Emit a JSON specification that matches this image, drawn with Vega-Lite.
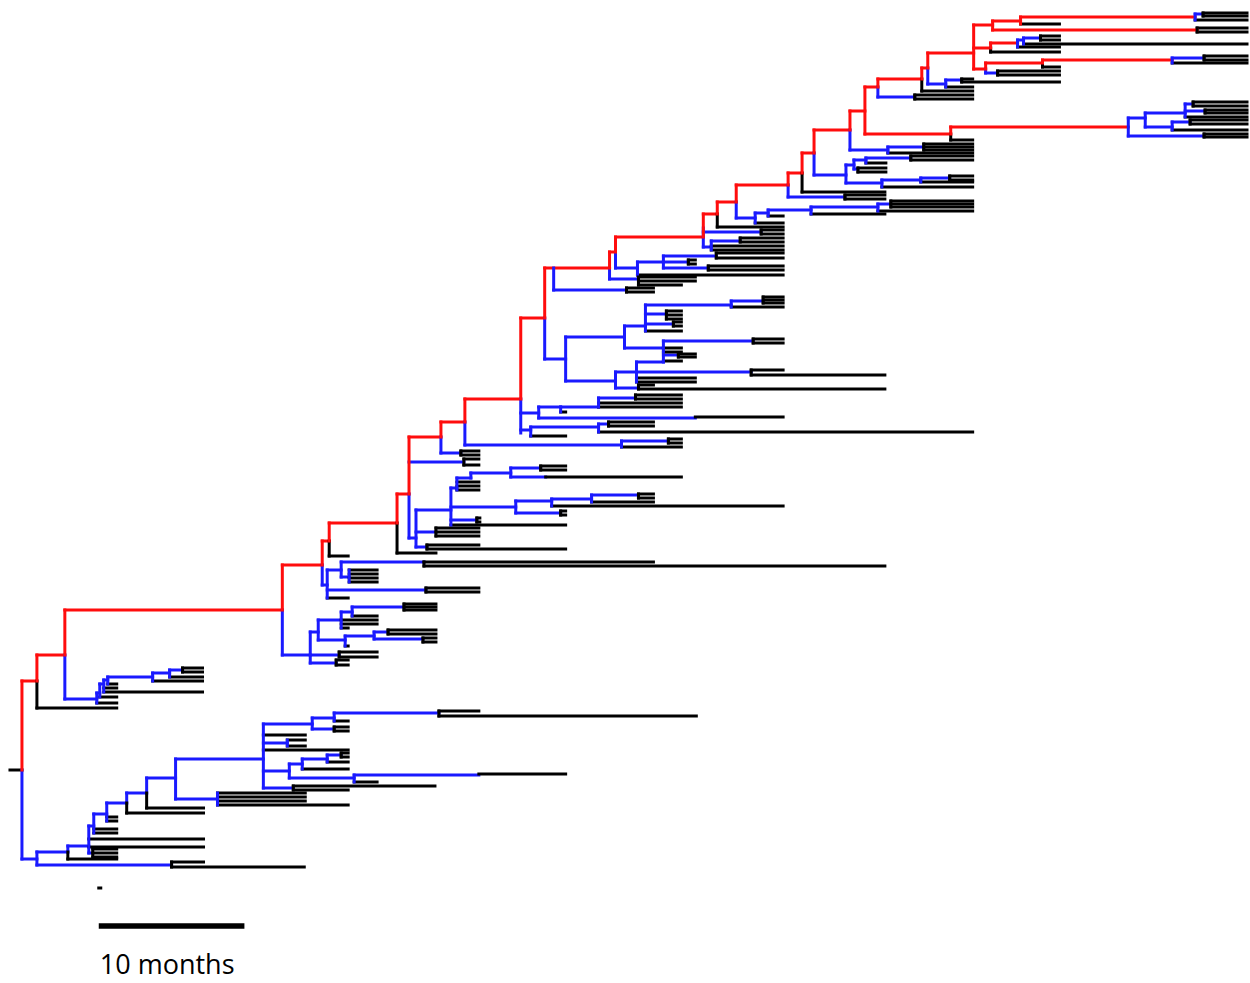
{
"$schema":"https://vega.github.io/schema/vega-lite/v6.json",
"width":1250,"height":983,"padding":0,
"autosize":{"type":"fit","contains":"padding"},
"config":{"view":{"stroke":null}},
"datasets":{
"h":[
{"x":10,"x2":22,"y":770,"c":"k"},{"x":22,"x2":37,"y":681,"c":"r"},{"x":37,"x2":117,"y":708,"c":"k"},{"x":37,"x2":65,"y":655,"c":"r"},{"x":65,"x2":283,"y":610,"c":"r"},
{"x":65,"x2":97,"y":699,"c":"b"},{"x":97,"x2":117,"y":703,"c":"k"},{"x":97,"x2":100,"y":693,"c":"b"},{"x":100,"x2":117,"y":697,"c":"k"},{"x":100,"x2":104,"y":684,"c":"b"},{"x":104,"x2":203,"y":692,"c":"k"},{"x":104,"x2":117,"y":688,"c":"k"},{"x":104,"x2":108,"y":680,"c":"b"},{"x":108,"x2":153,"y":677,"c":"b"},{"x":108,"x2":117,"y":684,"c":"k"},{"x":153,"x2":203,"y":681,"c":"k"},{"x":153,"x2":170,"y":673,"c":"b"},{"x":170,"x2":203,"y":677,"c":"k"},{"x":170,"x2":183,"y":670,"c":"b"},{"x":183,"x2":203,"y":668,"c":"k"},{"x":183,"x2":203,"y":672,"c":"k"},
{"x":22,"x2":37,"y":859,"c":"b"},{"x":37,"x2":172,"y":865,"c":"b"},{"x":172,"x2":204,"y":862,"c":"k"},{"x":172,"x2":305,"y":867,"c":"k"},{"x":37,"x2":68,"y":852,"c":"b"},{"x":68,"x2":117,"y":859,"c":"k"},{"x":68,"x2":89,"y":846,"c":"b"},{"x":89,"x2":93,"y":853,"c":"b"},{"x":93,"x2":117,"y":849,"c":"k"},{"x":93,"x2":117,"y":853,"c":"k"},{"x":93,"x2":117,"y":857,"c":"k"},{"x":89,"x2":204,"y":839,"c":"k"},{"x":89,"x2":204,"y":847,"c":"k"},{"x":89,"x2":94,"y":826,"c":"b"},{"x":94,"x2":117,"y":829,"c":"k"},{"x":94,"x2":117,"y":833,"c":"k"},{"x":94,"x2":107,"y":814,"c":"b"},{"x":107,"x2":117,"y":817,"c":"k"},{"x":107,"x2":117,"y":821,"c":"k"},{"x":107,"x2":127,"y":803,"c":"b"},{"x":127,"x2":204,"y":813,"c":"k"},{"x":127,"x2":147,"y":793,"c":"b"},{"x":147,"x2":204,"y":808,"c":"k"},{"x":147,"x2":176,"y":778,"c":"b"},{"x":176,"x2":218,"y":799,"c":"b"},{"x":218,"x2":306,"y":793,"c":"k"},{"x":218,"x2":306,"y":797,"c":"k"},{"x":218,"x2":306,"y":801,"c":"k"},{"x":218,"x2":349,"y":805,"c":"k"},
{"x":176,"x2":264,"y":759,"c":"b"},{"x":264,"x2":313,"y":724,"c":"b"},{"x":313,"x2":335,"y":718,"c":"b"},{"x":335,"x2":440,"y":713,"c":"b"},{"x":440,"x2":480,"y":711,"c":"k"},{"x":440,"x2":698,"y":716,"c":"k"},{"x":335,"x2":349,"y":721,"c":"k"},{"x":313,"x2":335,"y":729,"c":"b"},{"x":335,"x2":349,"y":727,"c":"k"},{"x":335,"x2":349,"y":731,"c":"k"},{"x":264,"x2":306,"y":735,"c":"k"},{"x":264,"x2":288,"y":743,"c":"b"},{"x":288,"x2":306,"y":740,"c":"k"},{"x":288,"x2":306,"y":746,"c":"k"},{"x":264,"x2":349,"y":750,"c":"k"},{"x":264,"x2":290,"y":771,"c":"b"},{"x":290,"x2":303,"y":764,"c":"b"},{"x":303,"x2":328,"y":759,"c":"b"},{"x":328,"x2":342,"y":755,"c":"b"},{"x":342,"x2":349,"y":753,"c":"k"},{"x":342,"x2":349,"y":757,"c":"k"},{"x":328,"x2":349,"y":762,"c":"k"},{"x":303,"x2":349,"y":769,"c":"k"},{"x":290,"x2":355,"y":778,"c":"b"},{"x":355,"x2":480,"y":775,"c":"b"},{"x":480,"x2":567,"y":774,"c":"k"},{"x":355,"x2":378,"y":782,"c":"k"},{"x":264,"x2":294,"y":788,"c":"b"},{"x":294,"x2":436,"y":786,"c":"k"},{"x":294,"x2":349,"y":790,"c":"k"},{"x":99,"x2":101,"y":888,"c":"k"},
{"x":283,"x2":311,"y":655,"c":"b"},{"x":311,"x2":337,"y":663,"c":"b"},{"x":337,"x2":349,"y":660,"c":"k"},{"x":337,"x2":349,"y":665,"c":"k"},{"x":311,"x2":340,"y":655,"c":"b"},{"x":340,"x2":378,"y":652,"c":"k"},{"x":340,"x2":378,"y":657,"c":"k"},{"x":311,"x2":319,"y":632,"c":"b"},{"x":319,"x2":342,"y":620,"c":"b"},{"x":342,"x2":353,"y":612,"c":"b"},{"x":353,"x2":405,"y":607,"c":"b"},{"x":405,"x2":437,"y":604,"c":"k"},{"x":405,"x2":437,"y":607,"c":"k"},{"x":405,"x2":437,"y":610,"c":"k"},{"x":353,"x2":378,"y":616,"c":"k"},{"x":342,"x2":378,"y":620,"c":"k"},{"x":342,"x2":378,"y":624,"c":"k"},{"x":342,"x2":349,"y":628,"c":"k"},{"x":319,"x2":346,"y":640,"c":"b"},{"x":346,"x2":375,"y":636,"c":"b"},{"x":375,"x2":389,"y":632,"c":"b"},{"x":389,"x2":437,"y":630,"c":"k"},{"x":389,"x2":437,"y":634,"c":"k"},{"x":375,"x2":424,"y":639,"c":"b"},{"x":424,"x2":437,"y":638,"c":"k"},{"x":424,"x2":437,"y":642,"c":"k"},{"x":346,"x2":349,"y":646,"c":"k"},
{"x":283,"x2":323,"y":565,"c":"r"},{"x":323,"x2":330,"y":541,"c":"r"},{"x":330,"x2":349,"y":556,"c":"k"},{"x":323,"x2":328,"y":585,"c":"b"},{"x":328,"x2":349,"y":598,"c":"k"},{"x":328,"x2":427,"y":590,"c":"b"},{"x":427,"x2":480,"y":588,"c":"k"},{"x":427,"x2":480,"y":592,"c":"k"},{"x":328,"x2":342,"y":570,"c":"b"},{"x":342,"x2":425,"y":562,"c":"b"},{"x":425,"x2":655,"y":562,"c":"k"},{"x":425,"x2":887,"y":566,"c":"k"},{"x":342,"x2":350,"y":577,"c":"b"},{"x":350,"x2":378,"y":570,"c":"k"},{"x":350,"x2":378,"y":574,"c":"k"},{"x":350,"x2":378,"y":578,"c":"k"},{"x":350,"x2":378,"y":582,"c":"k"},
{"x":330,"x2":398,"y":523,"c":"r"},{"x":398,"x2":437,"y":553,"c":"k"},{"x":398,"x2":410,"y":494,"c":"r"},{"x":410,"x2":465,"y":462,"c":"b"},{"x":465,"x2":480,"y":459,"c":"k"},{"x":465,"x2":480,"y":465,"c":"k"},{"x":410,"x2":417,"y":538,"c":"b"},{"x":417,"x2":428,"y":547,"c":"b"},{"x":428,"x2":480,"y":545,"c":"k"},{"x":428,"x2":567,"y":549,"c":"k"},{"x":417,"x2":437,"y":532,"c":"b"},{"x":437,"x2":480,"y":528,"c":"k"},{"x":437,"x2":480,"y":532,"c":"k"},{"x":437,"x2":480,"y":536,"c":"k"},{"x":417,"x2":452,"y":510,"c":"b"},{"x":452,"x2":567,"y":525,"c":"k"},{"x":452,"x2":478,"y":520,"c":"b"},{"x":478,"x2":481,"y":518,"c":"k"},{"x":478,"x2":481,"y":522,"c":"k"},{"x":452,"x2":517,"y":507,"c":"b"},{"x":517,"x2":553,"y":501,"c":"b"},{"x":553,"x2":593,"y":499,"c":"b"},{"x":593,"x2":640,"y":495,"c":"b"},{"x":640,"x2":655,"y":494,"c":"k"},{"x":640,"x2":655,"y":498,"c":"k"},{"x":593,"x2":655,"y":502,"c":"k"},{"x":553,"x2":785,"y":506,"c":"k"},{"x":517,"x2":562,"y":513,"c":"b"},{"x":562,"x2":567,"y":511,"c":"k"},{"x":562,"x2":567,"y":515,"c":"k"},{"x":452,"x2":458,"y":488,"c":"b"},{"x":458,"x2":480,"y":482,"c":"k"},{"x":458,"x2":480,"y":486,"c":"k"},{"x":458,"x2":480,"y":490,"c":"k"},{"x":458,"x2":472,"y":478,"c":"b"},{"x":472,"x2":512,"y":473,"c":"b"},{"x":512,"x2":542,"y":468,"c":"b"},{"x":542,"x2":567,"y":466,"c":"k"},{"x":542,"x2":567,"y":470,"c":"k"},{"x":512,"x2":547,"y":477,"c":"b"},{"x":547,"x2":683,"y":477,"c":"k"},
{"x":410,"x2":442,"y":437,"c":"r"},{"x":442,"x2":462,"y":453,"c":"b"},{"x":462,"x2":480,"y":451,"c":"k"},{"x":462,"x2":480,"y":455,"c":"k"},{"x":442,"x2":466,"y":422,"c":"r"},{"x":466,"x2":623,"y":445,"c":"b"},{"x":623,"x2":670,"y":441,"c":"b"},{"x":670,"x2":683,"y":439,"c":"k"},{"x":670,"x2":683,"y":443,"c":"k"},{"x":623,"x2":683,"y":447,"c":"k"},
{"x":466,"x2":522,"y":399,"c":"r"},{"x":522,"x2":540,"y":413,"c":"b"},{"x":540,"x2":562,"y":407,"c":"b"},{"x":562,"x2":567,"y":412,"c":"k"},{"x":562,"x2":600,"y":407,"c":"b"},{"x":600,"x2":637,"y":398,"c":"b"},{"x":637,"x2":683,"y":395,"c":"k"},{"x":637,"x2":683,"y":399,"c":"k"},{"x":600,"x2":683,"y":403,"c":"k"},{"x":600,"x2":683,"y":407,"c":"k"},{"x":540,"x2":697,"y":418,"c":"b"},{"x":697,"x2":785,"y":417,"c":"k"},{"x":522,"x2":532,"y":430,"c":"b"},{"x":532,"x2":600,"y":427,"c":"b"},{"x":600,"x2":610,"y":424,"c":"b"},{"x":610,"x2":655,"y":422,"c":"k"},{"x":610,"x2":655,"y":426,"c":"k"},{"x":600,"x2":975,"y":432,"c":"k"},{"x":532,"x2":567,"y":436,"c":"k"},
{"x":522,"x2":546,"y":318,"c":"r"},{"x":546,"x2":567,"y":359,"c":"b"},{"x":567,"x2":626,"y":337,"c":"b"},{"x":626,"x2":647,"y":326,"c":"b"},{"x":647,"x2":733,"y":305,"c":"b"},{"x":733,"x2":765,"y":301,"c":"b"},{"x":765,"x2":785,"y":297,"c":"k"},{"x":765,"x2":785,"y":300,"c":"k"},{"x":765,"x2":785,"y":303,"c":"k"},{"x":733,"x2":785,"y":307,"c":"k"},{"x":647,"x2":668,"y":314,"c":"b"},{"x":668,"x2":683,"y":311,"c":"k"},{"x":668,"x2":683,"y":315,"c":"k"},{"x":668,"x2":683,"y":319,"c":"k"},{"x":647,"x2":675,"y":324,"c":"b"},{"x":675,"x2":683,"y":322,"c":"k"},{"x":675,"x2":683,"y":326,"c":"k"},{"x":647,"x2":683,"y":331,"c":"k"},{"x":626,"x2":665,"y":348,"c":"b"},{"x":665,"x2":755,"y":341,"c":"b"},{"x":755,"x2":785,"y":339,"c":"k"},{"x":755,"x2":785,"y":343,"c":"k"},{"x":665,"x2":683,"y":348,"c":"k"},{"x":665,"x2":683,"y":352,"c":"k"},{"x":567,"x2":617,"y":381,"c":"b"},{"x":617,"x2":638,"y":372,"c":"b"},{"x":638,"x2":665,"y":362,"c":"b"},{"x":665,"x2":680,"y":355,"c":"b"},{"x":680,"x2":697,"y":354,"c":"k"},{"x":680,"x2":697,"y":357,"c":"k"},{"x":665,"x2":683,"y":361,"c":"k"},{"x":638,"x2":753,"y":372,"c":"b"},{"x":753,"x2":785,"y":370,"c":"k"},{"x":753,"x2":887,"y":375,"c":"k"},{"x":638,"x2":697,"y":378,"c":"k"},{"x":638,"x2":697,"y":382,"c":"k"},{"x":617,"x2":640,"y":388,"c":"b"},{"x":640,"x2":655,"y":385,"c":"k"},{"x":640,"x2":887,"y":389,"c":"k"},
{"x":546,"x2":611,"y":268,"c":"r"},{"x":555,"x2":628,"y":290,"c":"b"},{"x":628,"x2":655,"y":288,"c":"k"},{"x":628,"x2":655,"y":292,"c":"k"},{"x":611,"x2":640,"y":279,"c":"b"},{"x":640,"x2":697,"y":277,"c":"k"},{"x":640,"x2":697,"y":281,"c":"k"},{"x":640,"x2":683,"y":285,"c":"k"},{"x":611,"x2":617,"y":252,"c":"r"},{"x":617,"x2":639,"y":268,"c":"b"},{"x":639,"x2":785,"y":275,"c":"k"},{"x":639,"x2":665,"y":262,"c":"b"},{"x":665,"x2":718,"y":256,"c":"b"},{"x":718,"x2":785,"y":253,"c":"k"},{"x":718,"x2":785,"y":258,"c":"k"},{"x":665,"x2":690,"y":262,"c":"b"},{"x":690,"x2":697,"y":260,"c":"k"},{"x":690,"x2":697,"y":264,"c":"k"},{"x":665,"x2":710,"y":268,"c":"b"},{"x":710,"x2":785,"y":266,"c":"k"},{"x":710,"x2":785,"y":270,"c":"k"},{"x":617,"x2":705,"y":237,"c":"r"},{"x":705,"x2":763,"y":232,"c":"b"},{"x":763,"x2":785,"y":230,"c":"k"},{"x":763,"x2":785,"y":234,"c":"k"},{"x":705,"x2":713,"y":247,"c":"b"},{"x":713,"x2":742,"y":241,"c":"b"},{"x":742,"x2":785,"y":238,"c":"k"},{"x":742,"x2":785,"y":242,"c":"k"},{"x":713,"x2":785,"y":246,"c":"k"},{"x":713,"x2":785,"y":250,"c":"k"},{"x":705,"x2":719,"y":214,"c":"r"},{"x":719,"x2":785,"y":227,"c":"k"},{"x":719,"x2":738,"y":202,"c":"r"},{"x":738,"x2":757,"y":218,"c":"b"},{"x":757,"x2":785,"y":223,"c":"k"},{"x":757,"x2":770,"y":213,"c":"b"},{"x":770,"x2":785,"y":216,"c":"k"},{"x":770,"x2":813,"y":210,"c":"b"},{"x":813,"x2":887,"y":214,"c":"k"},{"x":813,"x2":880,"y":207,"c":"b"},{"x":880,"x2":893,"y":204,"c":"b"},{"x":893,"x2":975,"y":201,"c":"k"},{"x":893,"x2":975,"y":204,"c":"k"},{"x":893,"x2":975,"y":207,"c":"k"},{"x":880,"x2":975,"y":211,"c":"k"},{"x":738,"x2":790,"y":185,"c":"r"},
{"x":790,"x2":847,"y":197,"c":"b"},{"x":847,"x2":887,"y":195,"c":"k"},{"x":847,"x2":887,"y":199,"c":"k"},{"x":790,"x2":804,"y":173,"c":"r"},{"x":804,"x2":887,"y":192,"c":"k"},{"x":804,"x2":816,"y":153,"c":"r"},{"x":816,"x2":848,"y":175,"c":"b"},{"x":848,"x2":856,"y":165,"c":"b"},{"x":856,"x2":868,"y":160,"c":"b"},{"x":868,"x2":913,"y":158,"c":"b"},{"x":913,"x2":975,"y":156,"c":"k"},{"x":913,"x2":975,"y":160,"c":"k"},{"x":868,"x2":888,"y":163,"c":"k"},{"x":856,"x2":860,"y":169,"c":"b"},{"x":860,"x2":888,"y":168,"c":"k"},{"x":860,"x2":888,"y":172,"c":"k"},{"x":848,"x2":884,"y":183,"c":"b"},{"x":884,"x2":923,"y":180,"c":"b"},{"x":923,"x2":952,"y":178,"c":"b"},{"x":952,"x2":975,"y":176,"c":"k"},{"x":952,"x2":975,"y":180,"c":"k"},{"x":923,"x2":975,"y":182,"c":"k"},{"x":884,"x2":975,"y":187,"c":"k"},{"x":816,"x2":852,"y":130,"c":"r"},{"x":852,"x2":890,"y":150,"c":"b"},{"x":890,"x2":926,"y":147,"c":"b"},{"x":926,"x2":975,"y":144,"c":"k"},{"x":926,"x2":975,"y":147,"c":"k"},{"x":926,"x2":975,"y":150,"c":"k"},{"x":890,"x2":975,"y":153,"c":"k"},{"x":852,"x2":867,"y":111,"c":"r"},{"x":867,"x2":953,"y":134,"c":"r"},{"x":953,"x2":975,"y":140,"c":"k"},{"x":953,"x2":1131,"y":127,"c":"r"},{"x":1131,"x2":1148,"y":118,"c":"b"},{"x":1148,"x2":1188,"y":113,"c":"b"},{"x":1188,"x2":1196,"y":104,"c":"b"},{"x":1196,"x2":1250,"y":102,"c":"k"},{"x":1196,"x2":1250,"y":106,"c":"k"},{"x":1188,"x2":1208,"y":111,"c":"b"},{"x":1208,"x2":1250,"y":110,"c":"k"},{"x":1208,"x2":1250,"y":113,"c":"k"},{"x":1188,"x2":1250,"y":117,"c":"k"},{"x":1148,"x2":1175,"y":127,"c":"b"},{"x":1175,"x2":1193,"y":122,"c":"b"},{"x":1193,"x2":1250,"y":120,"c":"k"},{"x":1193,"x2":1250,"y":124,"c":"k"},{"x":1175,"x2":1250,"y":130,"c":"k"},{"x":1131,"x2":1207,"y":136,"c":"b"},{"x":1207,"x2":1250,"y":134,"c":"k"},{"x":1207,"x2":1250,"y":137,"c":"k"},
{"x":867,"x2":880,"y":87,"c":"r"},{"x":880,"x2":917,"y":97,"c":"b"},{"x":917,"x2":975,"y":95,"c":"k"},{"x":917,"x2":975,"y":99,"c":"k"},{"x":880,"x2":924,"y":79,"c":"r"},{"x":924,"x2":975,"y":91,"c":"k"},{"x":924,"x2":930,"y":68,"c":"r"},{"x":930,"x2":948,"y":84,"c":"b"},{"x":948,"x2":964,"y":80,"c":"b"},{"x":964,"x2":975,"y":79,"c":"k"},{"x":964,"x2":1062,"y":82,"c":"k"},{"x":948,"x2":975,"y":87,"c":"k"},{"x":930,"x2":976,"y":53,"c":"r"},{"x":976,"x2":995,"y":25,"c":"r"},{"x":995,"x2":1023,"y":21,"c":"r"},{"x":1023,"x2":1198,"y":17,"c":"r"},{"x":1198,"x2":1206,"y":14,"c":"b"},{"x":1206,"x2":1250,"y":13,"c":"k"},{"x":1206,"x2":1250,"y":16,"c":"k"},{"x":1198,"x2":1250,"y":20,"c":"k"},{"x":1023,"x2":1062,"y":24,"c":"k"},{"x":995,"x2":1200,"y":30,"c":"r"},{"x":1200,"x2":1250,"y":28,"c":"k"},{"x":1200,"x2":1250,"y":32,"c":"k"},{"x":976,"x2":993,"y":48,"c":"r"},{"x":993,"x2":1062,"y":52,"c":"k"},{"x":993,"x2":1020,"y":43,"c":"r"},{"x":1020,"x2":1026,"y":40,"c":"b"},{"x":1026,"x2":1043,"y":38,"c":"b"},{"x":1043,"x2":1062,"y":36,"c":"k"},{"x":1043,"x2":1062,"y":40,"c":"k"},{"x":1026,"x2":1250,"y":44,"c":"k"},{"x":1020,"x2":1062,"y":47,"c":"k"},{"x":976,"x2":988,"y":69,"c":"r"},{"x":988,"x2":1045,"y":63,"c":"r"},{"x":1045,"x2":1062,"y":67,"c":"k"},{"x":1045,"x2":1175,"y":60,"c":"r"},{"x":1175,"x2":1207,"y":58,"c":"b"},{"x":1207,"x2":1250,"y":56,"c":"k"},{"x":1207,"x2":1250,"y":60,"c":"k"},{"x":1175,"x2":1250,"y":63,"c":"k"},{"x":988,"x2":1000,"y":73,"c":"b"},{"x":1000,"x2":1062,"y":71,"c":"k"},{"x":1000,"x2":1062,"y":75,"c":"k"}
],
"v":[
{"x":22,"y":681,"y2":770,"c":"r"},{"x":22,"y":770,"y2":859,"c":"b"},{"x":37,"y":655,"y2":681,"c":"r"},{"x":37,"y":681,"y2":708,"c":"k"},{"x":65,"y":610,"y2":655,"c":"r"},{"x":65,"y":655,"y2":699,"c":"b"},
{"x":97,"y":693,"y2":703,"c":"b"},{"x":100,"y":684,"y2":697,"c":"b"},{"x":104,"y":680,"y2":692,"c":"b"},{"x":108,"y":677,"y2":684,"c":"b"},{"x":153,"y":673,"y2":681,"c":"b"},{"x":170,"y":670,"y2":677,"c":"b"},{"x":183,"y":668,"y2":672,"c":"k"},
{"x":37,"y":852,"y2":865,"c":"b"},{"x":172,"y":862,"y2":867,"c":"k"},{"x":68,"y":846,"y2":852,"c":"b"},{"x":68,"y":852,"y2":859,"c":"k"},{"x":89,"y":826,"y2":853,"c":"b"},{"x":93,"y":849,"y2":857,"c":"k"},{"x":94,"y":814,"y2":833,"c":"b"},{"x":107,"y":803,"y2":821,"c":"b"},{"x":127,"y":793,"y2":803,"c":"b"},{"x":127,"y":803,"y2":813,"c":"k"},{"x":147,"y":778,"y2":793,"c":"b"},{"x":147,"y":793,"y2":808,"c":"k"},{"x":176,"y":759,"y2":799,"c":"b"},{"x":218,"y":793,"y2":805,"c":"b"},{"x":264,"y":724,"y2":788,"c":"b"},{"x":313,"y":718,"y2":729,"c":"b"},{"x":335,"y":713,"y2":721,"c":"b"},{"x":440,"y":711,"y2":716,"c":"k"},{"x":335,"y":727,"y2":731,"c":"k"},{"x":288,"y":740,"y2":746,"c":"b"},{"x":290,"y":764,"y2":778,"c":"b"},{"x":303,"y":759,"y2":769,"c":"b"},{"x":328,"y":755,"y2":762,"c":"b"},{"x":342,"y":753,"y2":757,"c":"k"},{"x":355,"y":775,"y2":782,"c":"b"},{"x":294,"y":786,"y2":790,"c":"k"},
{"x":283,"y":565,"y2":610,"c":"r"},{"x":283,"y":610,"y2":655,"c":"b"},{"x":311,"y":632,"y2":663,"c":"b"},{"x":337,"y":660,"y2":665,"c":"k"},{"x":340,"y":652,"y2":657,"c":"k"},{"x":319,"y":620,"y2":640,"c":"b"},{"x":342,"y":612,"y2":628,"c":"b"},{"x":353,"y":607,"y2":616,"c":"b"},{"x":405,"y":604,"y2":610,"c":"k"},{"x":346,"y":636,"y2":646,"c":"b"},{"x":375,"y":632,"y2":639,"c":"b"},{"x":389,"y":630,"y2":634,"c":"k"},{"x":424,"y":638,"y2":642,"c":"k"},
{"x":323,"y":541,"y2":565,"c":"r"},{"x":323,"y":565,"y2":585,"c":"b"},{"x":330,"y":523,"y2":541,"c":"r"},{"x":330,"y":541,"y2":556,"c":"k"},{"x":328,"y":570,"y2":598,"c":"b"},{"x":427,"y":588,"y2":592,"c":"k"},{"x":342,"y":562,"y2":577,"c":"b"},{"x":425,"y":562,"y2":566,"c":"k"},{"x":350,"y":570,"y2":582,"c":"b"},
{"x":398,"y":494,"y2":523,"c":"r"},{"x":398,"y":523,"y2":553,"c":"k"},{"x":410,"y":437,"y2":494,"c":"r"},{"x":410,"y":494,"y2":538,"c":"b"},{"x":465,"y":459,"y2":465,"c":"k"},{"x":417,"y":510,"y2":547,"c":"b"},{"x":428,"y":545,"y2":549,"c":"k"},{"x":437,"y":528,"y2":536,"c":"k"},{"x":452,"y":488,"y2":525,"c":"b"},{"x":478,"y":518,"y2":522,"c":"k"},{"x":517,"y":501,"y2":513,"c":"b"},{"x":553,"y":499,"y2":506,"c":"b"},{"x":593,"y":495,"y2":502,"c":"b"},{"x":640,"y":494,"y2":498,"c":"k"},{"x":562,"y":511,"y2":515,"c":"k"},{"x":458,"y":478,"y2":490,"c":"b"},{"x":472,"y":473,"y2":478,"c":"b"},{"x":512,"y":468,"y2":477,"c":"b"},{"x":542,"y":466,"y2":470,"c":"k"},
{"x":442,"y":422,"y2":437,"c":"r"},{"x":442,"y":437,"y2":453,"c":"b"},{"x":462,"y":451,"y2":455,"c":"k"},{"x":466,"y":399,"y2":422,"c":"r"},{"x":466,"y":422,"y2":445,"c":"b"},{"x":623,"y":441,"y2":447,"c":"b"},{"x":670,"y":439,"y2":443,"c":"k"},
{"x":522,"y":399,"y2":433,"c":"b"},{"x":522,"y":318,"y2":399,"c":"r"},{"x":540,"y":407,"y2":418,"c":"b"},{"x":562,"y":407,"y2":412,"c":"b"},{"x":600,"y":398,"y2":407,"c":"b"},{"x":637,"y":395,"y2":399,"c":"k"},{"x":532,"y":427,"y2":436,"c":"b"},{"x":600,"y":424,"y2":432,"c":"b"},{"x":610,"y":422,"y2":426,"c":"k"},
{"x":546,"y":268,"y2":318,"c":"r"},{"x":546,"y":318,"y2":359,"c":"b"},{"x":567,"y":337,"y2":381,"c":"b"},{"x":626,"y":326,"y2":348,"c":"b"},{"x":647,"y":305,"y2":331,"c":"b"},{"x":733,"y":301,"y2":307,"c":"b"},{"x":765,"y":297,"y2":303,"c":"k"},{"x":668,"y":311,"y2":319,"c":"k"},{"x":675,"y":322,"y2":326,"c":"k"},{"x":665,"y":341,"y2":352,"c":"b"},{"x":755,"y":339,"y2":343,"c":"k"},{"x":617,"y":372,"y2":388,"c":"b"},{"x":638,"y":362,"y2":382,"c":"b"},{"x":665,"y":355,"y2":362,"c":"b"},{"x":680,"y":354,"y2":357,"c":"k"},{"x":753,"y":370,"y2":375,"c":"k"},{"x":640,"y":385,"y2":389,"c":"k"},
{"x":555,"y":268,"y2":290,"c":"b"},{"x":628,"y":288,"y2":292,"c":"k"},{"x":611,"y":252,"y2":268,"c":"r"},{"x":611,"y":268,"y2":279,"c":"b"},{"x":640,"y":277,"y2":285,"c":"k"},{"x":617,"y":237,"y2":252,"c":"r"},{"x":617,"y":252,"y2":268,"c":"b"},{"x":639,"y":262,"y2":275,"c":"b"},{"x":665,"y":256,"y2":268,"c":"b"},{"x":718,"y":253,"y2":258,"c":"k"},{"x":690,"y":260,"y2":264,"c":"k"},{"x":710,"y":266,"y2":270,"c":"k"},{"x":705,"y":214,"y2":237,"c":"r"},{"x":705,"y":228,"y2":247,"c":"b"},{"x":763,"y":230,"y2":234,"c":"k"},{"x":713,"y":241,"y2":250,"c":"b"},{"x":742,"y":238,"y2":242,"c":"k"},{"x":719,"y":202,"y2":214,"c":"r"},{"x":719,"y":214,"y2":227,"c":"k"},{"x":738,"y":185,"y2":202,"c":"r"},{"x":738,"y":202,"y2":218,"c":"b"},{"x":757,"y":213,"y2":223,"c":"b"},{"x":770,"y":210,"y2":216,"c":"b"},{"x":813,"y":207,"y2":214,"c":"b"},{"x":880,"y":204,"y2":211,"c":"b"},{"x":893,"y":201,"y2":207,"c":"k"},
{"x":790,"y":173,"y2":185,"c":"r"},{"x":790,"y":185,"y2":197,"c":"b"},{"x":847,"y":195,"y2":199,"c":"k"},{"x":804,"y":153,"y2":173,"c":"r"},{"x":804,"y":173,"y2":192,"c":"k"},{"x":816,"y":130,"y2":153,"c":"r"},{"x":816,"y":153,"y2":175,"c":"b"},{"x":848,"y":165,"y2":183,"c":"b"},{"x":856,"y":160,"y2":169,"c":"b"},{"x":868,"y":158,"y2":163,"c":"b"},{"x":913,"y":156,"y2":160,"c":"k"},{"x":860,"y":168,"y2":172,"c":"k"},{"x":884,"y":180,"y2":187,"c":"b"},{"x":923,"y":178,"y2":182,"c":"b"},{"x":952,"y":176,"y2":180,"c":"k"},{"x":852,"y":111,"y2":130,"c":"r"},{"x":852,"y":130,"y2":150,"c":"b"},{"x":890,"y":147,"y2":153,"c":"b"},{"x":926,"y":144,"y2":150,"c":"k"},{"x":867,"y":87,"y2":134,"c":"r"},{"x":953,"y":127,"y2":134,"c":"r"},{"x":953,"y":134,"y2":140,"c":"k"},{"x":1131,"y":118,"y2":136,"c":"b"},{"x":1148,"y":113,"y2":127,"c":"b"},{"x":1188,"y":104,"y2":117,"c":"b"},{"x":1196,"y":102,"y2":106,"c":"k"},{"x":1208,"y":110,"y2":113,"c":"k"},{"x":1175,"y":122,"y2":130,"c":"b"},{"x":1193,"y":120,"y2":124,"c":"k"},{"x":1207,"y":134,"y2":137,"c":"k"},
{"x":880,"y":79,"y2":87,"c":"r"},{"x":880,"y":87,"y2":97,"c":"b"},{"x":917,"y":95,"y2":99,"c":"k"},{"x":924,"y":68,"y2":79,"c":"r"},{"x":924,"y":79,"y2":91,"c":"k"},{"x":930,"y":53,"y2":68,"c":"r"},{"x":930,"y":68,"y2":84,"c":"b"},{"x":948,"y":80,"y2":87,"c":"b"},{"x":964,"y":79,"y2":82,"c":"k"},{"x":976,"y":25,"y2":69,"c":"r"},{"x":995,"y":21,"y2":30,"c":"r"},{"x":1023,"y":17,"y2":24,"c":"r"},{"x":1198,"y":14,"y2":20,"c":"b"},{"x":1206,"y":13,"y2":16,"c":"k"},{"x":1200,"y":28,"y2":32,"c":"k"},{"x":993,"y":43,"y2":48,"c":"r"},{"x":993,"y":48,"y2":52,"c":"k"},{"x":1020,"y":40,"y2":47,"c":"b"},{"x":1026,"y":38,"y2":44,"c":"b"},{"x":1043,"y":36,"y2":40,"c":"k"},{"x":988,"y":63,"y2":69,"c":"r"},{"x":988,"y":69,"y2":73,"c":"b"},{"x":1045,"y":60,"y2":63,"c":"r"},{"x":1045,"y":63,"y2":67,"c":"k"},{"x":1175,"y":58,"y2":63,"c":"b"},{"x":1207,"y":56,"y2":60,"c":"k"},{"x":1000,"y":71,"y2":75,"c":"k"}
]
},
"layer":[
{"data":{"name":"h"},
 "mark":{"type":"rule","strokeWidth":3,"strokeCap":"square"},
 "encoding":{
  "x":{"field":"x","type":"quantitative","scale":{"domain":[0,1250],"nice":false,"zero":false},"axis":null},
  "x2":{"field":"x2"},
  "y":{"field":"y","type":"quantitative","scale":{"domain":[0,983],"nice":false,"zero":false,"reverse":true},"axis":null},
  "color":{"field":"c","type":"nominal","scale":{"domain":["k","b","r"],"range":["#000000","#1a1aff","#ff0d0d"]},"legend":null},
  "order":{"field":"c","type":"nominal"}}},
{"data":{"name":"v"},
 "mark":{"type":"rule","strokeWidth":3,"strokeCap":"square"},
 "encoding":{
  "x":{"field":"x","type":"quantitative","scale":{"domain":[0,1250],"nice":false,"zero":false},"axis":null},
  "y":{"field":"y","type":"quantitative","scale":{"domain":[0,983],"nice":false,"zero":false,"reverse":true},"axis":null},
  "y2":{"field":"y2"},
  "color":{"field":"c","type":"nominal","scale":{"domain":["k","b","r"],"range":["#000000","#1a1aff","#ff0d0d"]},"legend":null},
  "order":{"field":"c","type":"nominal"}}},
{"data":{"values":[{"x":99,"x2":245,"y":926}]},
 "mark":{"type":"rule","strokeWidth":5.5,"color":"#000000"},
 "encoding":{
  "x":{"field":"x","type":"quantitative","scale":{"domain":[0,1250],"nice":false,"zero":false},"axis":null},
  "x2":{"field":"x2"},
  "y":{"field":"y","type":"quantitative","scale":{"domain":[0,983],"nice":false,"zero":false,"reverse":true},"axis":null}}},
{"data":{"values":[{"x":100,"y":966,"label":"10 months"}]},
 "mark":{"type":"text","align":"left","baseline":"middle","fontSize":27,"font":"Open Sans","color":"#000000"},
 "encoding":{
  "x":{"field":"x","type":"quantitative","scale":{"domain":[0,1250],"nice":false,"zero":false},"axis":null},
  "y":{"field":"y","type":"quantitative","scale":{"domain":[0,983],"nice":false,"zero":false,"reverse":true},"axis":null},
  "text":{"field":"label"}}}
]
}
